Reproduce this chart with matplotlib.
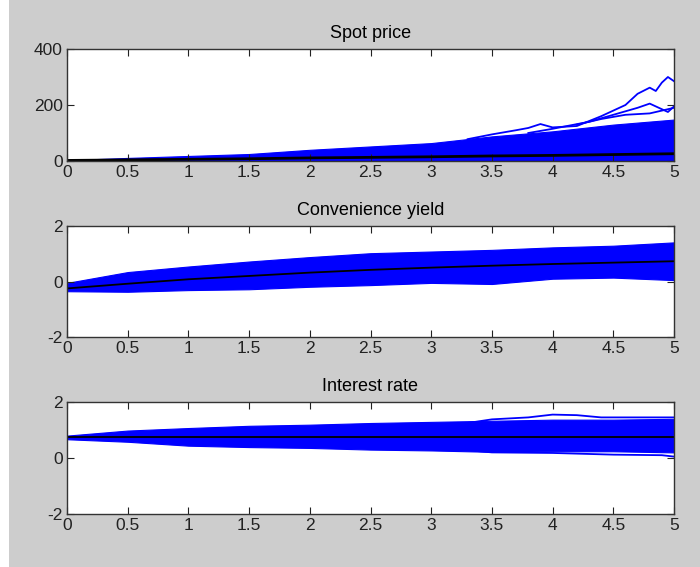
import numpy as np
import matplotlib
matplotlib.use('Agg')
import matplotlib.pyplot as plt
from matplotlib.patches import Rectangle
from matplotlib.ticker import FuncFormatter

# time knots (years)
t = [0, 0.5, 1, 1.5, 2, 2.5, 3, 3.5, 4, 4.5, 5]

# spot price: envelope of the simulated paths and their mean
spot_hi = [3, 11, 18, 25, 40, 52, 64, 88, 106, 130, 148]
spot_lo = [0, 0, 0, 0, 0, 0, 0, 0, 0, 0, 0]
spot_mean = [2, 4, 6, 8, 11, 13, 15, 18, 20, 23, 26]
spot_out1_t = [3.3, 3.5, 3.7, 3.8, 3.9, 4.0, 4.2, 4.4, 4.6, 4.7, 4.8, 4.85, 4.9, 4.95, 5.0]
spot_out1 = [78, 95, 110, 118, 132, 120, 125, 160, 200, 240, 262, 250, 280, 300, 285]
spot_out2_t = [3.8, 4.0, 4.3, 4.5, 4.7, 4.8, 4.9, 4.95, 5.0]
spot_out2 = [100, 115, 140, 165, 190, 205, 185, 175, 195]
spot_out3_t = [4.2, 4.4, 4.6, 4.8, 4.9, 5.0]
spot_out3 = [130, 150, 165, 170, 180, 190]

# convenience yield
cy_hi = [-0.05, 0.34, 0.54, 0.72, 0.88, 1.02, 1.08, 1.14, 1.23, 1.29, 1.41]
cy_lo = [-0.35, -0.37, -0.31, -0.28, -0.19, -0.13, -0.05, -0.09, 0.10, 0.14, 0.05]
cy_mean = [-0.25, -0.08, 0.08, 0.20, 0.32, 0.42, 0.50, 0.57, 0.63, 0.68, 0.73]

# interest rate
ir_hi = [0.80, 0.98, 1.07, 1.15, 1.19, 1.25, 1.29, 1.33, 1.37, 1.37, 1.40]
ir_lo = [0.67, 0.58, 0.44, 0.39, 0.36, 0.30, 0.27, 0.22, 0.24, 0.24, 0.20]
ir_mean = [0.75, 0.75, 0.75, 0.75, 0.75, 0.75, 0.75, 0.75, 0.75, 0.75, 0.75]
ir_up_t = [3.3, 3.5, 3.8, 4.0, 4.2, 4.4, 4.7, 5.0]
ir_up = [1.25, 1.38, 1.45, 1.55, 1.53, 1.45, 1.45, 1.45]
ir_dn_t = [3.3, 3.5, 4.0, 4.5, 4.9, 5.0]
ir_dn = [0.28, 0.20, 0.18, 0.12, 0.10, 0.05]

plt.rcParams['font.family'] = ['Liberation Sans', 'DejaVu Sans']

fig = plt.figure(figsize=(7, 5.67), dpi=100)
fig.patch.set_facecolor('white')
fig.add_artist(Rectangle((9 / 700, 0), 1, 1, transform=fig.transFigure,
                         facecolor='#cdcdcd', edgecolor='none', zorder=-10))

boxes = [
    [67 / 700, 1 - 161 / 567, 607 / 700, 112 / 567],
    [67 / 700, 1 - 337 / 567, 607 / 700, 111 / 567],
    [67 / 700, 1 - 514 / 567, 607 / 700, 112 / 567],
]
titles = ['Spot price', 'Convenience yield', 'Interest rate']

fmt = FuncFormatter(lambda v, p: ('%g' % v))

axes = []
for box, title in zip(boxes, titles):
    ax = fig.add_axes(box)
    ax.set_facecolor('white')
    ax.set_xlim(0, 5)
    ax.set_xticks(np.arange(0, 5.01, 0.5))
    ax.xaxis.set_major_formatter(fmt)
    ax.yaxis.set_major_formatter(fmt)
    ax.tick_params(direction='in', length=5, top=True, right=True,
                   labelsize=12.5, colors='#222222', pad=3)
    for s in ax.spines.values():
        s.set_color('#333333')
        s.set_linewidth(1)
    ax.set_title(title, fontsize=13, pad=8)
    axes.append(ax)

blue = '#0000ff'

ax = axes[0]
ax.fill_between(t, spot_lo, spot_hi, color=blue, lw=0.8, edgecolor=blue)
ax.plot(spot_out1_t, spot_out1, color=blue, lw=1.3)
ax.plot(spot_out2_t, spot_out2, color=blue, lw=1.3)
ax.plot(spot_out3_t, spot_out3, color=blue, lw=1.3)
ax.plot(t, spot_mean, color='black', lw=2)
ax.set_ylim(0, 400)
ax.set_yticks([0, 200, 400])

ax = axes[1]
ax.fill_between(t, cy_lo, cy_hi, color=blue, lw=0.8, edgecolor=blue)
ax.plot(t, cy_mean, color='black', lw=1.3)
ax.set_ylim(-2, 2)
ax.set_yticks([-2, 0, 2])

ax = axes[2]
ax.fill_between(t, ir_lo, ir_hi, color=blue, lw=0.8, edgecolor=blue)
ax.plot(ir_up_t, ir_up, color=blue, lw=1.3)
ax.plot(ir_dn_t, ir_dn, color=blue, lw=1.3)
ax.plot(t, ir_mean, color='black', lw=1.3)
ax.set_ylim(-2, 2)
ax.set_yticks([-2, 0, 2])

fig.savefig('out.png', dpi=100, facecolor=fig.get_facecolor())
